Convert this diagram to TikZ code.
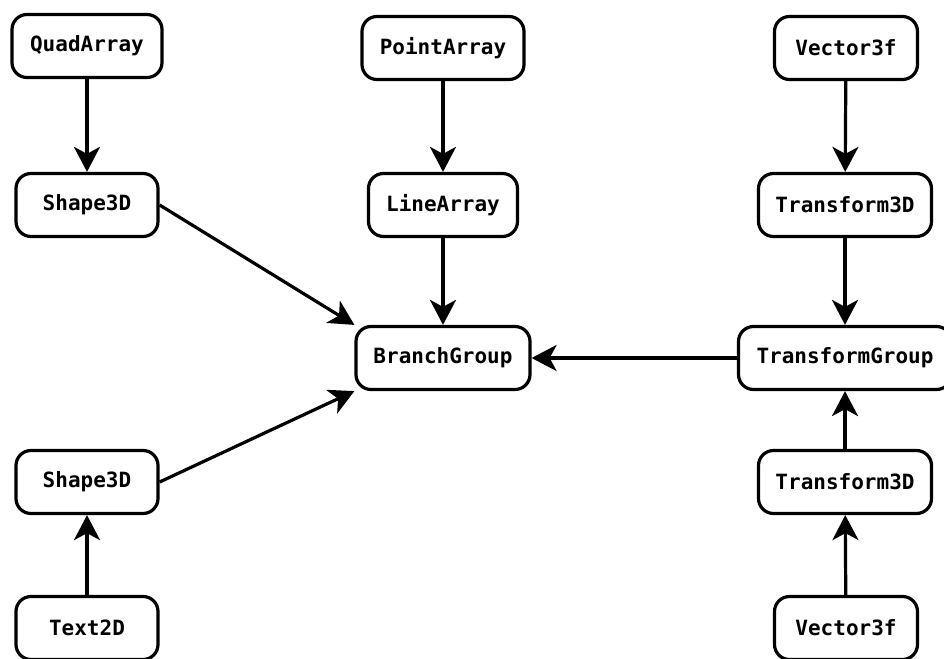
\documentclass[tikz,border=0pt]{standalone}
\usepackage{fontspec}
\setmonofont{DejaVu Sans Mono}
\usetikzlibrary{arrows.meta}
\begin{document}
\begin{tikzpicture}[
  box/.style={draw, line width=3.2pt, rounded corners=15pt, fill=white,
    font=\ttfamily\bfseries\fontsize{21}{25}\selectfont,
    inner sep=0pt, minimum height=63pt},
  link/.style={line width=3.2pt, -{Stealth[length=25pt, width=26pt, inset=7pt]}}]
  % canvas, 1pt per unit, y measured downwards from the top edge
  \begin{scope}[x=1pt, y=-1pt]
  \clip (0,0) rectangle (944,658);
  \fill[white] (0,0) rectangle (944,658);

  % left column
  \node[box, minimum width=150pt] (quad)   at (87,46)  {QuadArray};
  \node[box, minimum width=142pt] (shapeA) at (87,205) {Shape3D};
  \node[box, minimum width=142pt] (shapeB) at (87,482) {Shape3D};
  \node[box, minimum width=142pt] (text)   at (87,628) {Text2D};

  % middle column
  \node[box, minimum width=162pt] (point)  at (443,48)  {PointArray};
  \node[box, minimum width=149pt] (line)   at (443,205) {LineArray};
  \node[box, minimum width=174pt] (branch) at (443,358) {BranchGroup};

  % right column
  \node[box, minimum width=143pt] (vecA)   at (846,48)  {Vector3f};
  \node[box, minimum width=173pt] (trA)    at (845,205) {Transform3D};
  \node[box, minimum width=213pt] (tgroup) at (845,358) {TransformGroup};
  \node[box, minimum width=173pt] (trB)    at (845,482) {Transform3D};
  \node[box, minimum width=143pt] (vecB)   at (846,628) {Vector3f};

  % connectors
  \draw[link] (quad) -- (shapeA);
  \draw[link] (shapeA.east) -- (branch.north west);
  \draw[link] (text) -- (shapeB);
  \draw[link] (shapeB.east) -- (branch.south west);
  \draw[link] (point) -- (line);
  \draw[link] (line) -- (branch);
  \draw[link] (vecA) -- (trA);
  \draw[link] (trA) -- (tgroup);
  \draw[link] (tgroup) -- (branch);
  \draw[link] (trB) -- (tgroup);
  \draw[link] (vecB) -- (trB);
  \end{scope}
\end{tikzpicture}
\end{document}
